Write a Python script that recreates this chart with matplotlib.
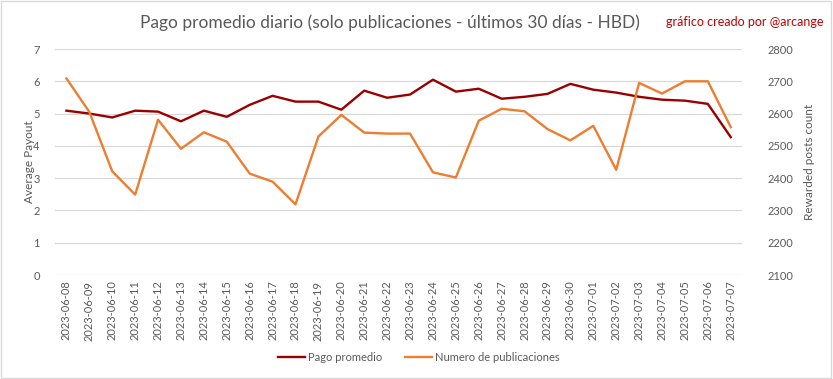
import matplotlib
matplotlib.use('Agg')
import matplotlib.pyplot as plt
from matplotlib.patches import Rectangle

plt.rcParams['font.family'] = ['Lato', 'DejaVu Sans']

# data
fechas = ['2023-06-08', '2023-06-09', '2023-06-10', '2023-06-11', '2023-06-12',
          '2023-06-13', '2023-06-14', '2023-06-15', '2023-06-16', '2023-06-17',
          '2023-06-18', '2023-06-19', '2023-06-20', '2023-06-21', '2023-06-22',
          '2023-06-23', '2023-06-24', '2023-06-25', '2023-06-26', '2023-06-27',
          '2023-06-28', '2023-06-29', '2023-06-30', '2023-07-01', '2023-07-02',
          '2023-07-03', '2023-07-04', '2023-07-05', '2023-07-06', '2023-07-07']
pago_promedio = [5.09, 5.00, 4.88, 5.09, 5.06, 4.76, 5.09, 4.90, 5.27, 5.55,
                 5.37, 5.37, 5.12, 5.71, 5.49, 5.59, 6.05, 5.68, 5.77, 5.46,
                 5.52, 5.61, 5.92, 5.74, 5.65, 5.52, 5.43, 5.40, 5.30, 4.27]
num_publicaciones = [2709, 2605, 2421, 2349, 2581, 2491, 2542, 2513, 2414, 2389,
                     2319, 2529, 2596, 2541, 2538, 2538, 2418, 2402, 2578, 2615,
                     2607, 2552, 2517, 2562, 2426, 2695, 2662, 2700, 2700, 2558]

c_pago = '#9A0000'
c_num = '#ED7D31'
gris = '#595959'

fig = plt.figure(figsize=(8.33, 3.79), dpi=100)
fig.patches.append(Rectangle((0.001, 0.002), 0.997, 0.995, transform=fig.transFigure,
                             fill=False, edgecolor='#D9D9D9', linewidth=1))

ax = fig.add_axes([0.066, 0.2744, 0.825, 0.5963])
ax2 = ax.twinx()

x = list(range(len(fechas)))
l1, = ax.plot(x, pago_promedio, color=c_pago, linewidth=1.7, label='Pago promedio')
l2, = ax2.plot(x, num_publicaciones, color=c_num, linewidth=1.7, label='Numero de publicaciones')

ax.set_xlim(-0.5, len(fechas) - 0.5)
ax.set_ylim(0, 7)
ax.set_yticks(range(0, 8))
ax2.set_ylim(2100, 2800)
ax2.set_yticks(range(2100, 2801, 100))
ax.grid(axis='y', color='#D9D9D9', linewidth=0.9)
ax.set_axisbelow(True)

ax.set_xticks(x)
ax.set_xticklabels(fechas, rotation=90, fontsize=7.5, color=gris)
for a in (ax, ax2):
    for s in a.spines.values():
        s.set_visible(False)
    a.tick_params(length=0, colors=gris, labelsize=8)
ax.tick_params(axis='y', pad=11)
ax2.tick_params(axis='y', pad=18)
ax.tick_params(axis='x', pad=4)

ax.set_ylabel('Average Payout', color=gris, fontsize=8.5, labelpad=-1)
ax2.set_ylabel('Rewarded posts count', color=gris, fontsize=8.5, labelpad=8)

fig.text(0.468, 0.939, 'Pago promedio diario (solo publicaciones - últimos 30 días - HBD)',
         ha='center', va='center', fontsize=12.5, color=gris)
fig.text(0.988, 0.942, 'gráfico creado por @arcange', ha='right', va='center',
         fontsize=9, color='#C00000')

fig.legend(handles=[l1, l2], loc='center', bbox_to_anchor=(0.503, 0.057), ncol=2,
           frameon=False, fontsize=8, labelcolor=gris, handlelength=2.4,
           handletextpad=0.3, columnspacing=2.0)

fig.savefig('out.png', dpi=100)
